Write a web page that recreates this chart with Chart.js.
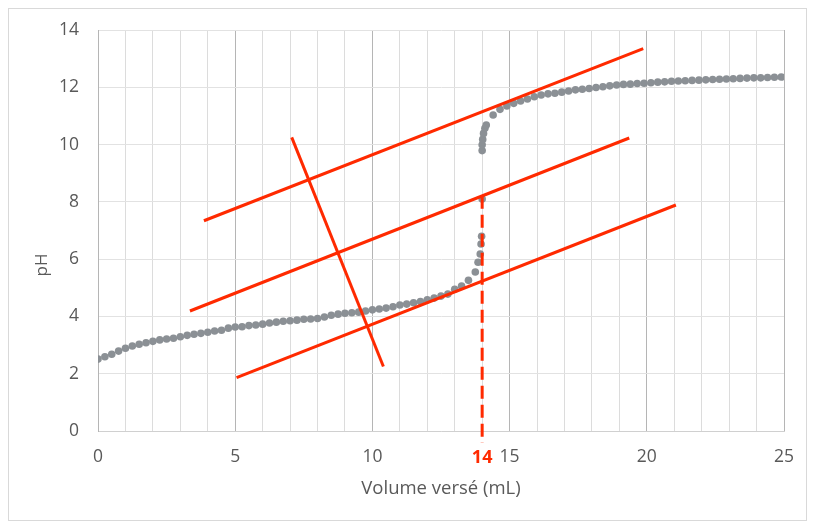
<!DOCTYPE html>
<html lang="fr">
<head>
  <meta charset="UTF-8">
  <title>Titrage pH</title>
  <style>
    body { margin: 0; background: #fff; }
    #wrap { position: relative; width: 814px; height: 527px; }
    #frame { position: absolute; left: 8px; top: 8px; width: 797px; height: 511px; border: 1px solid #d9d9d9; pointer-events: none; }
  </style>
</head>
<body>
  <div id="wrap">
    <canvas id="myChart" width="814" height="527"></canvas>
    <div id="frame"></div>
  </div>

  <script src="https://cdn.jsdelivr.net/npm/chart.js"></script>

  <script>
    // courbe de titrage : volume versé (mL) et pH mesuré
    const volume = [
      0, 0.25, 0.5, 0.75, 1, 1.25, 1.5, 1.75, 2, 2.25, 2.5, 2.75, 3, 3.25, 3.5, 3.75,
      4, 4.25, 4.5, 4.75, 5, 5.25, 5.5, 5.75, 6, 6.25, 6.5, 6.75, 7, 7.25, 7.5, 7.75,
      8, 8.25, 8.5, 8.75, 9, 9.25, 9.5, 9.75, 10, 10.25, 10.5, 10.75, 11, 11.25, 11.5, 11.75,
      12, 12.25, 12.5, 12.75, 13, 13.25, 13.5, 13.75, 13.85, 13.93, 13.96, 13.98,
      14, 14, 14, 14.02, 14.05, 14.1, 14.15,
      14.4, 14.65, 14.9, 15.15, 15.4, 15.65, 15.9, 16.15, 16.4, 16.65, 16.9, 17.15, 17.4, 17.65, 17.9,
      18.15, 18.4, 18.65, 18.9, 19.15, 19.4, 19.65, 19.9, 20.15, 20.4, 20.65, 20.9, 21.15, 21.4, 21.65,
      21.9, 22.15, 22.4, 22.65, 22.9, 23.15, 23.4, 23.65, 23.9, 24.15, 24.4, 24.65, 24.9
    ];
    const ph = [
      2.51, 2.59, 2.68, 2.79, 2.89, 2.97, 3.03, 3.08, 3.13, 3.18, 3.21, 3.24, 3.29, 3.34, 3.38, 3.41,
      3.45, 3.49, 3.52, 3.59, 3.63, 3.64, 3.68, 3.70, 3.73, 3.77, 3.80, 3.83, 3.85, 3.87, 3.90, 3.91,
      3.93, 3.98, 4.04, 4.08, 4.11, 4.13, 4.15, 4.19, 4.23, 4.26, 4.29, 4.34, 4.40, 4.43, 4.48, 4.52,
      4.58, 4.64, 4.71, 4.78, 4.95, 5.06, 5.26, 5.55, 5.89, 6.18, 6.53, 6.80,
      8.1, 9.79, 9.99, 10.18, 10.39, 10.57, 10.68,
      11.03, 11.23, 11.35, 11.44, 11.52, 11.59, 11.67, 11.73, 11.77, 11.79, 11.83, 11.87, 11.91, 11.93, 11.96,
      11.99, 12.02, 12.05, 12.08, 12.10, 12.11, 12.13, 12.14, 12.16, 12.18, 12.19, 12.21, 12.22, 12.23, 12.24,
      12.25, 12.26, 12.27, 12.28, 12.29, 12.30, 12.31, 12.32, 12.33, 12.33, 12.34, 12.35, 12.36
    ];

    // méthode des tangentes : [x1, x2] et [y1, y2]
    const tangentHautX = [3.86, 19.87];
    const tangentHautY = [7.34, 13.35];
    const paralleleX = [3.35, 19.36];
    const paralleleY = [4.19, 10.23];
    const tangentBasX = [5.05, 21.06];
    const tangentBasY = [1.86, 7.89];
    const perpendX = [7.06, 10.4];
    const perpendY = [10.25, 2.25];
    const equivX = [14, 14];
    const equivY = [8.21, -0.42];

    const xLabels = [0, 5, 10, 14, 15, 20, 25];
    const veq = 14;

    const red = '#ff2a00';
    const grey = '#595959';

    function pts(xs, ys) {
      return xs.map((x, i) => ({ x: x, y: ys[i] }));
    }

    function redLine(xs, ys, extra) {
      return Object.assign({
        data: pts(xs, ys),
        showLine: true,
        borderColor: red,
        borderWidth: 3,
        pointRadius: 0,
        fill: false
      }, extra || {});
    }

    // titre de l'axe y, un peu sous le milieu comme dans Excel
    const yTitle = {
      id: 'yTitle',
      afterDraw(chart) {
        const c = chart.ctx;
        c.save();
        c.translate(42, 265);
        c.rotate(-Math.PI / 2);
        c.fillStyle = grey;
        c.font = '17px "Open Sans"';
        c.textAlign = 'center';
        c.textBaseline = 'middle';
        c.fillText('pH', 0, 0);
        c.restore();
      }
    };

    const ctx = document.getElementById('myChart').getContext('2d');

    new Chart(ctx, {
      type: 'scatter',
      plugins: [yTitle],
      data: {
        datasets: [
          redLine(equivX, equivY, { borderDash: [13, 6], clip: false }),
          redLine(tangentHautX, tangentHautY),
          redLine(paralleleX, paralleleY),
          redLine(tangentBasX, tangentBasY),
          redLine(perpendX, perpendY),
          {
            data: pts(volume, ph),
            backgroundColor: '#8b9095',
            borderColor: '#8b9095',
            borderWidth: 0,
            pointRadius: 3.8
          }
        ]
      },
      options: {
        responsive: false,
        animation: false,
        layout: { padding: { left: 8, right: 30, top: 30, bottom: 20 } },
        plugins: {
          legend: { display: false },
          tooltip: { enabled: false }
        },
        scales: {
          x: {
            type: 'linear',
            min: 0,
            max: 25,
            afterFit: s => { s.height = 76; },
            afterBuildTicks: s => {
              const t = [];
              for (let v = 0; v <= 25; v++) t.push({ value: v });
              s.ticks = t;
            },
            ticks: {
              autoSkip: false,
              maxRotation: 0,
              padding: 16,
              callback: v => xLabels.includes(v) ? String(v) : '',
              color: c => c.tick && c.tick.value === veq ? red : grey,
              font: c => c.tick && c.tick.value === veq
                ? { family: 'Open Sans', size: 18, weight: 'bold' }
                : { family: 'Open Sans', size: 17.5 }
            },
            grid: {
              drawTicks: false,
              color: c => c.tick && c.tick.value % 5 === 0 ? '#b5b5b5' : '#dcdcdc'
            },
            border: { color: '#d0d0d0' },
            title: {
              display: true,
              text: 'Volume versé (mL)',
              color: grey,
              font: { family: 'Open Sans', size: 18.5 },
              padding: { top: 2, bottom: 7 }
            }
          },
          y: {
            min: 0,
            max: 14,
            afterFit: s => { s.width = 90; },
            ticks: {
              stepSize: 2,
              padding: 19,
              color: grey,
              font: { family: 'Open Sans', size: 17.5 }
            },
            grid: { drawTicks: false, color: '#e2e2e2' },
            border: { color: '#b5b5b5' }
          }
        }
      }
    });
  </script>
</body>
</html>
